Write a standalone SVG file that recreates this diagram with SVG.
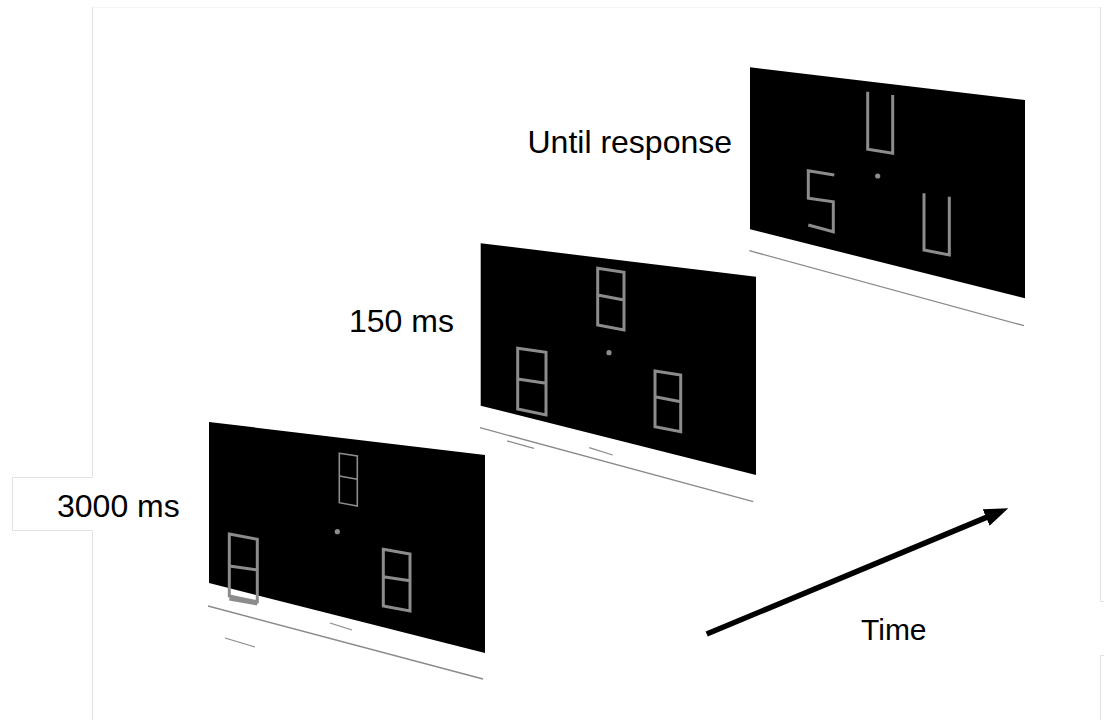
<svg xmlns="http://www.w3.org/2000/svg" width="1105" height="720" viewBox="0 0 1105 720">
<style>
.bg{fill:#fff}
.frame{fill:none;stroke:#e2e2e2;stroke-width:1}
.frameTop{fill:none;stroke:#f6f6f6;stroke-width:1}
.screen{fill:#000}
.floor{fill:none;stroke:#8a8a8a;stroke-width:1.3}
.dg{fill:none;stroke:#8c8c8c;stroke-width:3;stroke-linejoin:miter}
.dgt{fill:none;stroke:#8c8c8c;stroke-width:1.6}
.dot{fill:#8c8c8c}
.lbl{font-family:"Liberation Sans",Arial,sans-serif;font-size:32px;fill:#000}
</style>
<defs>
<marker id="ah" viewBox="0 0 24 18" refX="12" refY="9" markerWidth="24" markerHeight="18" markerUnits="userSpaceOnUse" orient="auto">
<path d="M0,0 L24,9 L0,18 Z" fill="#000"/>
</marker>
</defs>
<rect class="bg" x="0" y="0" width="1105" height="720"/>
<g id="frame">
<path class="frameTop" d="M92,7.5 H1100"/>
<path class="frame" d="M92.5,7 V477.5 H12.5 V530.5 H92.5 V720"/>
<path class="frame" d="M1100.5,7 V601.5 H1104"/>
<path class="frame" d="M1104,655.5 H1100.5 V720"/>
</g>
<g id="panel-3000ms">
<polygon class="screen" points="209,422 485,455 485,653 209,583"/>
<path class="floor" d="M208,606 L483,679 M330,623 L352,630 M225,638 L255,647"/>
<path class="dgt" d="M339.3,453.3 L357.3,456 L357.3,506 L339.3,502.7 Z M339.3,476 L357.3,479.3"/>
<path class="dg" d="M229.3,534 L257.3,539.3 L257.3,601.7 L229.3,596 Z M229.3,566 L257.3,570 M229.3,599 L257.3,604"/>
<path class="dg" d="M383.3,549.3 L410,554 L410,611 L383.3,606 Z M383.3,576.7 L410,580.7"/>
<circle class="dot" cx="337.3" cy="531.7" r="2.6"/>
<text class="lbl" x="57" y="517">3000 ms</text>
</g>
<g id="panel-150ms">
<polygon class="screen" points="480.7,243.3 756,276.7 756,475 480.7,405.7"/>
<path class="floor" d="M480,427.7 L753.3,501.7 M507.3,441 L534,448.3 M589.3,447.7 L612.7,455"/>
<path class="dg" d="M597.7,268.3 L624,272.3 L624,330 L597.7,325 Z M597.7,295 L624,300"/>
<path class="dg" d="M517.7,348.3 L546,352.3 L546,415 L517.7,409 Z M517.7,379 L546,383.3"/>
<path class="dg" d="M655,371 L680.7,375 L680.7,431.7 L655,426.7 Z M655,396.7 L680.7,401.7"/>
<circle class="dot" cx="609" cy="352.7" r="2.6"/>
<text class="lbl" x="349" y="331.5">150 ms</text>
</g>
<g id="panel-until-response">
<polygon class="screen" points="750,67.3 1025,100 1025,298.3 750,229.3"/>
<path class="floor" d="M749.3,250.7 L1024,325.7"/>
<path class="dg" d="M867.7,91.7 L867.7,149.3 L892.7,153.3 L892.7,95"/>
<path class="dg" d="M834.3,175 L808.3,170.7 L808.3,198.3 L833.3,201.7 L833.3,231.7 L808.3,225"/>
<path class="dg" d="M924,193.3 L924,250 L949.3,255 L949.3,196.7"/>
<circle class="dot" cx="877.7" cy="176" r="2.6"/>
<text class="lbl" x="527.5" y="153">Until response</text>
</g>
<g id="connectors">
<line x1="706.7" y1="634" x2="997.2" y2="512.9" stroke="#000" stroke-width="5.5" marker-end="url(#ah)"/>
</g>
<g id="time-label">
<text class="lbl" x="861" y="639.5" style="font-size:30px">Time</text>
</g>
</svg>
